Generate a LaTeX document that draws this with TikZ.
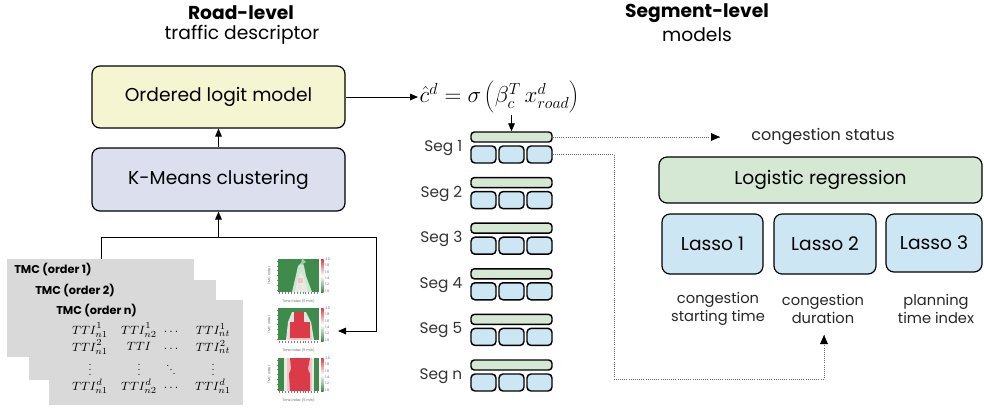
\documentclass[tikz,border=0pt]{standalone}
\usepackage{fontspec}
\setmainfont{Poppins}
\usetikzlibrary{arrows.meta}
\definecolor{yel}{HTML}{F5F5D2}
\definecolor{lav}{HTML}{DCDFEE}
\definecolor{grn}{HTML}{D5E8D4}
\definecolor{blu}{HTML}{CCE6F4}
\definecolor{gry}{HTML}{D9D9D9}
\definecolor{hgreen}{HTML}{3E8B4C}
\definecolor{hred}{HTML}{DB3A48}
\definecolor{hpink}{HTML}{F2C4C4}
\definecolor{hlight}{HTML}{CFE5D0}
\begin{document}
\begin{tikzpicture}[x=0.75pt,y=-0.75pt,
  bigbox/.style={draw, line width=0.9pt, rounded corners=6pt, align=center, font=\fontsize{14}{16}\selectfont},
  tmcbox/.style={fill=gry, inner sep=0pt},
  tmclab/.style={anchor=north west, font=\bfseries\fontsize{8.5}{10}\selectfont, inner sep=0pt},
  segbar/.style={draw, line width=1.1pt, rounded corners=2.5pt, fill=grn, inner sep=0pt, minimum width=81*0.75pt, minimum height=10*0.75pt},
  segcell/.style={draw, line width=1.1pt, rounded corners=3pt, fill=blu, inner sep=0pt, minimum width=25*0.75pt, minimum height=17*0.75pt},
  seglab/.style={anchor=east, font=\fontsize{11.5}{13}\selectfont, text=black!80},
  arr/.style={-{Triangle[length=6pt,width=5pt]}, line width=0.7pt},
  darr/.style={densely dotted, line width=0.6pt, black!60},
  mt/.style={font=\fontsize{9.5}{11}\selectfont, inner sep=0pt},
  vd/.style={font=\fontsize{7}{8}\selectfont, inner sep=0pt},
  small/.style={font=\fontsize{11}{13}\selectfont, align=center, text=black!85},
  tiny/.style={font=\fontsize{2.6}{3}\selectfont, text=black!60, inner sep=0pt}
]
\useasboundingbox (0,0) rectangle (984,412);

% titles
\node[font=\bfseries\fontsize{14}{16}\selectfont] (t1a) at (241,13) {Road-level};
\node[font=\fontsize{14}{16}\selectfont] (t1b) at (242,35) {traffic descriptor};
\node[font=\bfseries\fontsize{14}{16}\selectfont] (t2a) at (697,13) {Segment-level};
\node[font=\fontsize{14}{16}\selectfont] (t2b) at (697,35) {models};

% left boxes
\node[bigbox, fill=yel, minimum width=253*0.75pt, minimum height=62*0.75pt] (olm) at (218.5,97) {Ordered logit model};
\node[bigbox, fill=lav, minimum width=253*0.75pt, minimum height=63*0.75pt] (km) at (218.5,179.5) {K-Means clustering};
\draw[arr] (km.north) -- (olm.south);

% TMC stacks
\node[tmcbox, minimum width=187*0.75pt, minimum height=98*0.75pt] (tmc1) at (100.5,308) {};
\node[tmclab] (tmc1l) at (14,263) {TMC (order 1)};
\node[tmcbox, minimum width=187*0.75pt, minimum height=100*0.75pt] (tmc2) at (122.5,330) {};
\node[tmclab] (tmc2l) at (35,284) {TMC (order 2)};
\node[tmcbox, minimum width=194*0.75pt, minimum height=105*0.75pt] (tmcn) at (146,352.5) {};
\node[tmclab] (tmcnl) at (56,304) {TMC (order n)};

% matrix
\node[mt] (m11) at (90,330) {$TTI^1_{n1}$};
\node[mt] (m12) at (139,330) {$TTI^1_{n2}$};
\node[mt] (m13) at (171,332) {$\dots$};
\node[mt] (m14) at (213,330) {$TTI^1_{nt}$};
\node[mt] (m21) at (90,347) {$TTI^2_{n1}$};
\node[mt] (m22) at (139,346) {$TTI$};
\node[mt] (m23) at (171,349) {$\dots$};
\node[mt] (m24) at (213,347) {$TTI^2_{nt}$};
\node[vd] (m31) at (90,366) {$\vdots$};
\node[vd] (m32) at (139,366) {$\vdots$};
\node[vd] (m33) at (171,366) {$\ddots$};
\node[vd] (m34) at (213,366) {$\vdots$};
\node[mt] (m41) at (90,386) {$TTI^d_{n1}$};
\node[mt] (m42) at (139,386) {$TTI^d_{n2}$};
\node[mt] (m43) at (171,388) {$\dots$};
\node[mt] (m44) at (213,386) {$TTI^d_{n1}$};

% heatmaps
\newcommand{\hmframe}[2]{%
  \shade[top color=hred, bottom color=hgreen, middle color=white] (#1+43,#2) rectangle (#1+45.5,#2+33);
  \foreach \k/\v in {0/2.0,1/1.8,2/1.6,3/1.4,4/1.2,5/1.0}{\node[tiny, anchor=west] at (#1+47,#2+\k*6.4) {\v};}
  \node[tiny, rotate=90] at (#1-9,#2+16.5) {TMC order};
  \node[tiny] at (#1+20.5,#2+42) {Time index (5 min)};
  \foreach \k in {0,...,6}{\draw[black!50, line width=0.2pt] (#1-1.5,#2+2+\k*4.8) -- (#1,#2+2+\k*4.8);}
  \foreach \k in {0,...,13}{\draw[black!50, line width=0.2pt] (#1+1.5+\k*2.9,#2+33) -- (#1+1.5+\k*2.9,#2+35);}
}
% map 1
\fill[hgreen] (278,259) rectangle (319,292);
\fill[hlight] (292,292) -- (296,275) -- (298,266) -- (302,262) -- (304,266) -- (306,276) -- (312,292) -- cycle;
\fill[white!85!hgreen] (295,292) -- (298,278) -- (301,272) -- (304,278) -- (308,292) -- cycle;
\fill[hpink] (298,278) rectangle (303,283);
\fill[hpink!60] (298,285) rectangle (302,289);
\fill[hlight!70!hgreen] (302,258) -- (306,262) -- (301,265) -- cycle;
\hmframe{278}{259}
% map 2
\fill[hgreen] (278,308) rectangle (319,340);
\fill[white!80!hgreen] (286,340) -- (288,322) -- (292,312) -- (306,312) -- (311,322) -- (314,340) -- cycle;
\fill[hpink] (289,340) -- (290,324) -- (310,324) -- (312,340) -- cycle;
\fill[hred] (294,312) rectangle (304,322);
\fill[hred] (290,322) rectangle (310,338);
\hmframe{278}{308}
% map 3
\fill[hgreen] (278,358) rectangle (319,391);
\fill[white!85!hgreen] (284,358) rectangle (314,391);
\fill[hpink] (287,358) rectangle (312,391);
\fill[hred] (290,358) -- (310,358) -- (308,369) -- (310,374) -- (310,391) -- (290,391) -- (289,374) -- (291,369) -- cycle;
\hmframe{278}{358}

% feed lines
\coordinate (j1) at (101,237);
\coordinate (j2) at (376,237);
\coordinate (hm2in) at (338,331);
\draw[line width=0.7pt] (tmc1.north -| j1) |- (j2);
\draw[arr] (j2) |- (hm2in);
\draw[arr] (km.south |- j1) -- (km.south);

% formula
\node[anchor=west, font=\fontsize{16.5}{19}\selectfont, inner sep=1pt] (fm) at (418,97) {$\hat{c}^d = \sigma\left(\beta_c^T\, x_{road}^d\right)$};
\draw[arr] (olm.east) -- (fm.west);

% segments
\foreach \i/\lab in {0/1,1/2,2/3,3/4,4/5,5/n}{
  \pgfmathsetmacro{\yt}{132+45.6*\i}
  \node[segbar] (sg\lab) at (511.5,\yt+5) {};
  \node[segcell] (sa\lab) at (483.5,\yt+22.5) {};
  \node[segcell] (sb\lab) at (511.5,\yt+22.5) {};
  \node[segcell] (sc\lab) at (539.5,\yt+22.5) {};
  \node[seglab] (sl\lab) at (467,\yt+16) {Seg \lab};
}
\draw[arr] (sg1.north |- fm.south) -- (sg1.north);

% right side
\node[small, font=\fontsize{12}{14}\selectfont] (cs) at (823,137) {congestion status};
\node[bigbox, fill=grn, minimum width=323*0.75pt, minimum height=46*0.75pt] (lr) at (820.5,180) {Logistic regression};
\node[bigbox, fill=blu, minimum width=101*0.75pt, minimum height=60*0.75pt] (l1) at (712.5,244) {Lasso 1};
\node[bigbox, fill=blu, minimum width=102*0.75pt, minimum height=60*0.75pt] (l2) at (825,244) {Lasso 2};
\node[bigbox, fill=blu, minimum width=96*0.75pt, minimum height=58*0.75pt] (l3) at (934,243) {Lasso 3};
\node[small] (o1) at (718,309) {congestion\\starting time};
\node[small] (o2) at (823,309) {congestion\\duration};
\node[small] (o3) at (936,309) {planning\\time index};

\coordinate (csin) at (720,137);
\coordinate (d1) at (614,379);
\coordinate (durin) at (824,335);
\draw[darr] (sg1.east) -- (csin);
\fill[black] (csin) -- ++(-9,-4) -- ++(0,8) -- cycle;
\draw[darr] (sc1.east |- 0,154) -| (d1) -| (durin);
\fill[black] (durin) -- ++(-4,9) -- ++(8,0) -- cycle;
\end{tikzpicture}
\end{document}
